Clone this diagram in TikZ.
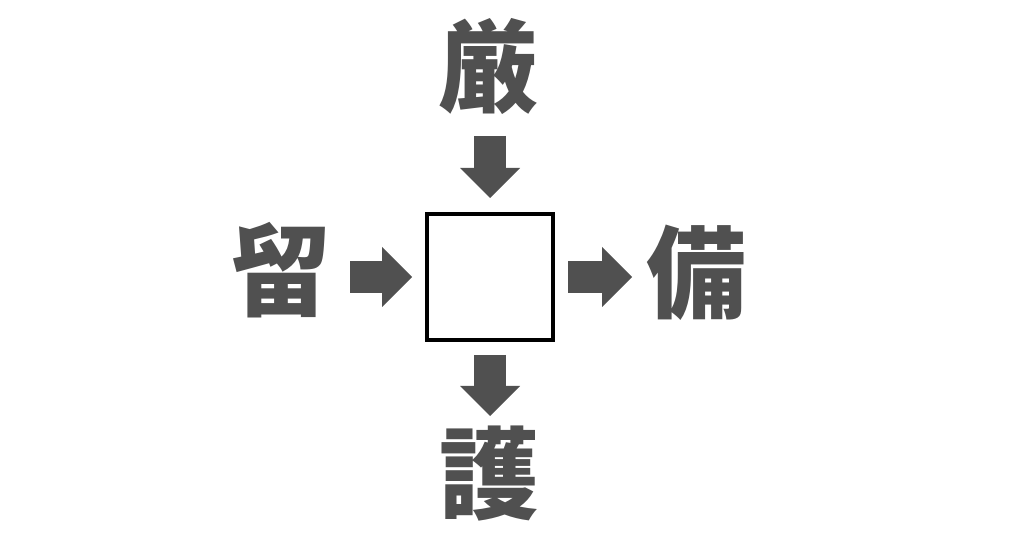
\documentclass[tikz,border=0pt]{standalone}
\usepackage{fontspec}
\newfontfamily\cjk{Noto Sans CJK JP}
\usetikzlibrary{arrows.meta}
\definecolor{ink}{RGB}{80,80,80}
\tikzset{
  kanji/.style={inner sep=0pt, text=ink, font=\cjk\bfseries\fontsize{100pt}{100pt}\selectfont},
  blank/.style={draw=black, line width=4pt, minimum size=126pt, inner sep=0pt, fill=white},
  blockarrow/.style={draw=ink, line width=32pt, line cap=butt,
    -{Triangle[width=60pt,length=30pt,line width=0pt]}}
}
\begin{document}
\begin{tikzpicture}[x=1pt,y=1pt]
\useasboundingbox[fill=white] (0,0) rectangle (1024,538);
\node[blank] (box) at (490,261) {};
\node[kanji] (top) at (488.5,471.5) {厳};
\node[kanji] (left) at (281,268) {留};
\node[kanji] (right) at (696.5,265.5) {備};
\node[kanji] (bottom) at (489,64.5) {護};
\coordinate (t1) at ([yshift=76pt]box.north);
\coordinate (t2) at ([yshift=14pt]box.north);
\coordinate (l1) at ([xshift=-75pt]box.west);
\coordinate (l2) at ([xshift=-13pt]box.west);
\coordinate (r1) at ([xshift=13pt]box.east);
\coordinate (r2) at ([xshift=77pt]box.east);
\coordinate (b1) at ([yshift=-13pt]box.south);
\coordinate (b2) at ([yshift=-74pt]box.south);
\draw[blockarrow] (t1) -- (t2);
\draw[blockarrow] (l1) -- (l2);
\draw[blockarrow] (r1) -- (r2);
\draw[blockarrow] (b1) -- (b2);
\end{tikzpicture}
\end{document}
